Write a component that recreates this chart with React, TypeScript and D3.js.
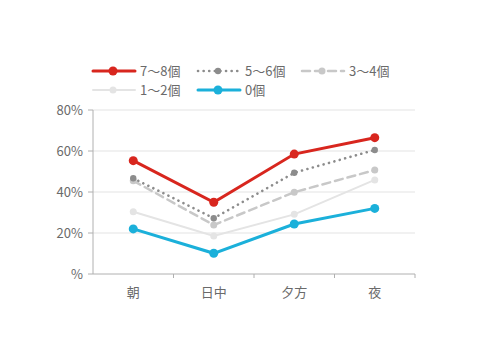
import React from "react";
import * as d3 from "d3";

const categories = ["朝", "日中", "夕方", "夜"];
const seriesNames = ["7～8個", "5～6個", "3～4個", "1～2個", "0個"];
const s78 = [55.3, 35, 58.5, 66.5];
const s56 = [46.7, 27.2, 49.4, 60.5];
const s34 = [45.5, 23.9, 39.9, 50.7];
const s12 = [30.4, 18.5, 29.1, 45.9];
const s0 = [22, 10.1, 24.4, 32];
const yTicks = [0, 20, 40, 60, 80];
const yTickLabels = ["%", "20%", "40%", "60%", "80%"];

const styles = [
  { color: "#d8261e", width: 3, dash: "", r: 4.5 },
  { color: "#8c8c8c", width: 2.6, dash: "0.1 5.5", r: 3.2 },
  { color: "#c8c8c8", width: 2.5, dash: "8 5", r: 3.5 },
  { color: "#e4e4e4", width: 2, dash: "", r: 3.5 },
  { color: "#1bb0da", width: 3, dash: "", r: 4.5 },
];
const allSeries = [s78, s56, s34, s12, s0];

export default function App() {
  const W = 480, H = 360;
  const x = d3.scaleBand<string>().domain(categories).range([93, 415]);
  const y = d3.scaleLinear().domain([0, 80]).range([274, 110]);
  const line = d3
    .line<number>()
    .x((_, i) => (x(categories[i]) as number) + x.bandwidth() / 2)
    .y((d) => y(d));
  const font = "'Noto Sans CJK JP', 'Noto Sans', sans-serif";
  const legendPos = [
    { x: 93, y: 71 },
    { x: 198, y: 71 },
    { x: 302, y: 71 },
    { x: 93, y: 90 },
    { x: 198, y: 90 },
  ];
  const drawOrder = [3, 2, 1, 4, 0];
  return (
    <svg width={W} height={H} style={{ position: "absolute", left: 0, top: 0, background: "#fff" }} fontFamily={font}>
      <rect width={W} height={H} fill="#fff" />
      {yTicks.slice(1).map((t) => (
        <line key={t} x1={93} x2={415} y1={y(t)} y2={y(t)} stroke="#e3e3e3" strokeWidth={1} />
      ))}
      <line x1={93} x2={93} y1={y(80)} y2={y(0)} stroke="#b0b0b0" strokeWidth={1} />
      <line x1={93} x2={415} y1={y(0)} y2={y(0)} stroke="#b0b0b0" strokeWidth={1} />
      {yTicks.map((t, i) => (
        <g key={t}>
          <line x1={88} x2={93} y1={y(t)} y2={y(t)} stroke="#b0b0b0" />
          <text x={83} y={y(t)} dy="0.35em" textAnchor="end" fontSize={13} fill="#6a6a6a">
            {yTickLabels[i]}
          </text>
        </g>
      ))}
      {categories.map((c, i) => (
        <g key={c}>
          {i > 0 && (
            <line x1={x(c) as number} x2={x(c) as number} y1={274} y2={278} stroke="#b0b0b0" />
          )}
          <text x={(x(c) as number) + x.bandwidth() / 2} y={297} textAnchor="middle" fontSize={13} fill="#6a6a6a">
            {c}
          </text>
        </g>
      ))}
      <line x1={415} x2={415} y1={274} y2={278} stroke="#b0b0b0" />
      {drawOrder.map((si) => {
        const st = styles[si];
        const data = allSeries[si];
        return (
          <g key={si}>
            <path d={line(data) || ""} fill="none" stroke={st.color} strokeWidth={st.width} strokeDasharray={st.dash} strokeLinecap="round" />
            {data.map((v, i) => (
              <circle key={i} cx={(x(categories[i]) as number) + x.bandwidth() / 2} cy={y(v)} r={st.r} fill={st.color} />
            ))}
          </g>
        );
      })}
      {seriesNames.map((n, i) => {
        const st = styles[i];
        const p = legendPos[i];
        return (
          <g key={n}>
            <line x1={p.x} x2={p.x + 42} y1={p.y} y2={p.y} stroke={st.color} strokeWidth={st.width} strokeDasharray={st.dash} strokeLinecap="round" />
            <circle cx={p.x + 20} cy={p.y} r={st.r} fill={st.color} />
            <text x={p.x + 47} y={p.y} dy="0.35em" fontSize={13} fill="#6a6a6a">
              {n}
            </text>
          </g>
        );
      })}
    </svg>
  );
}
